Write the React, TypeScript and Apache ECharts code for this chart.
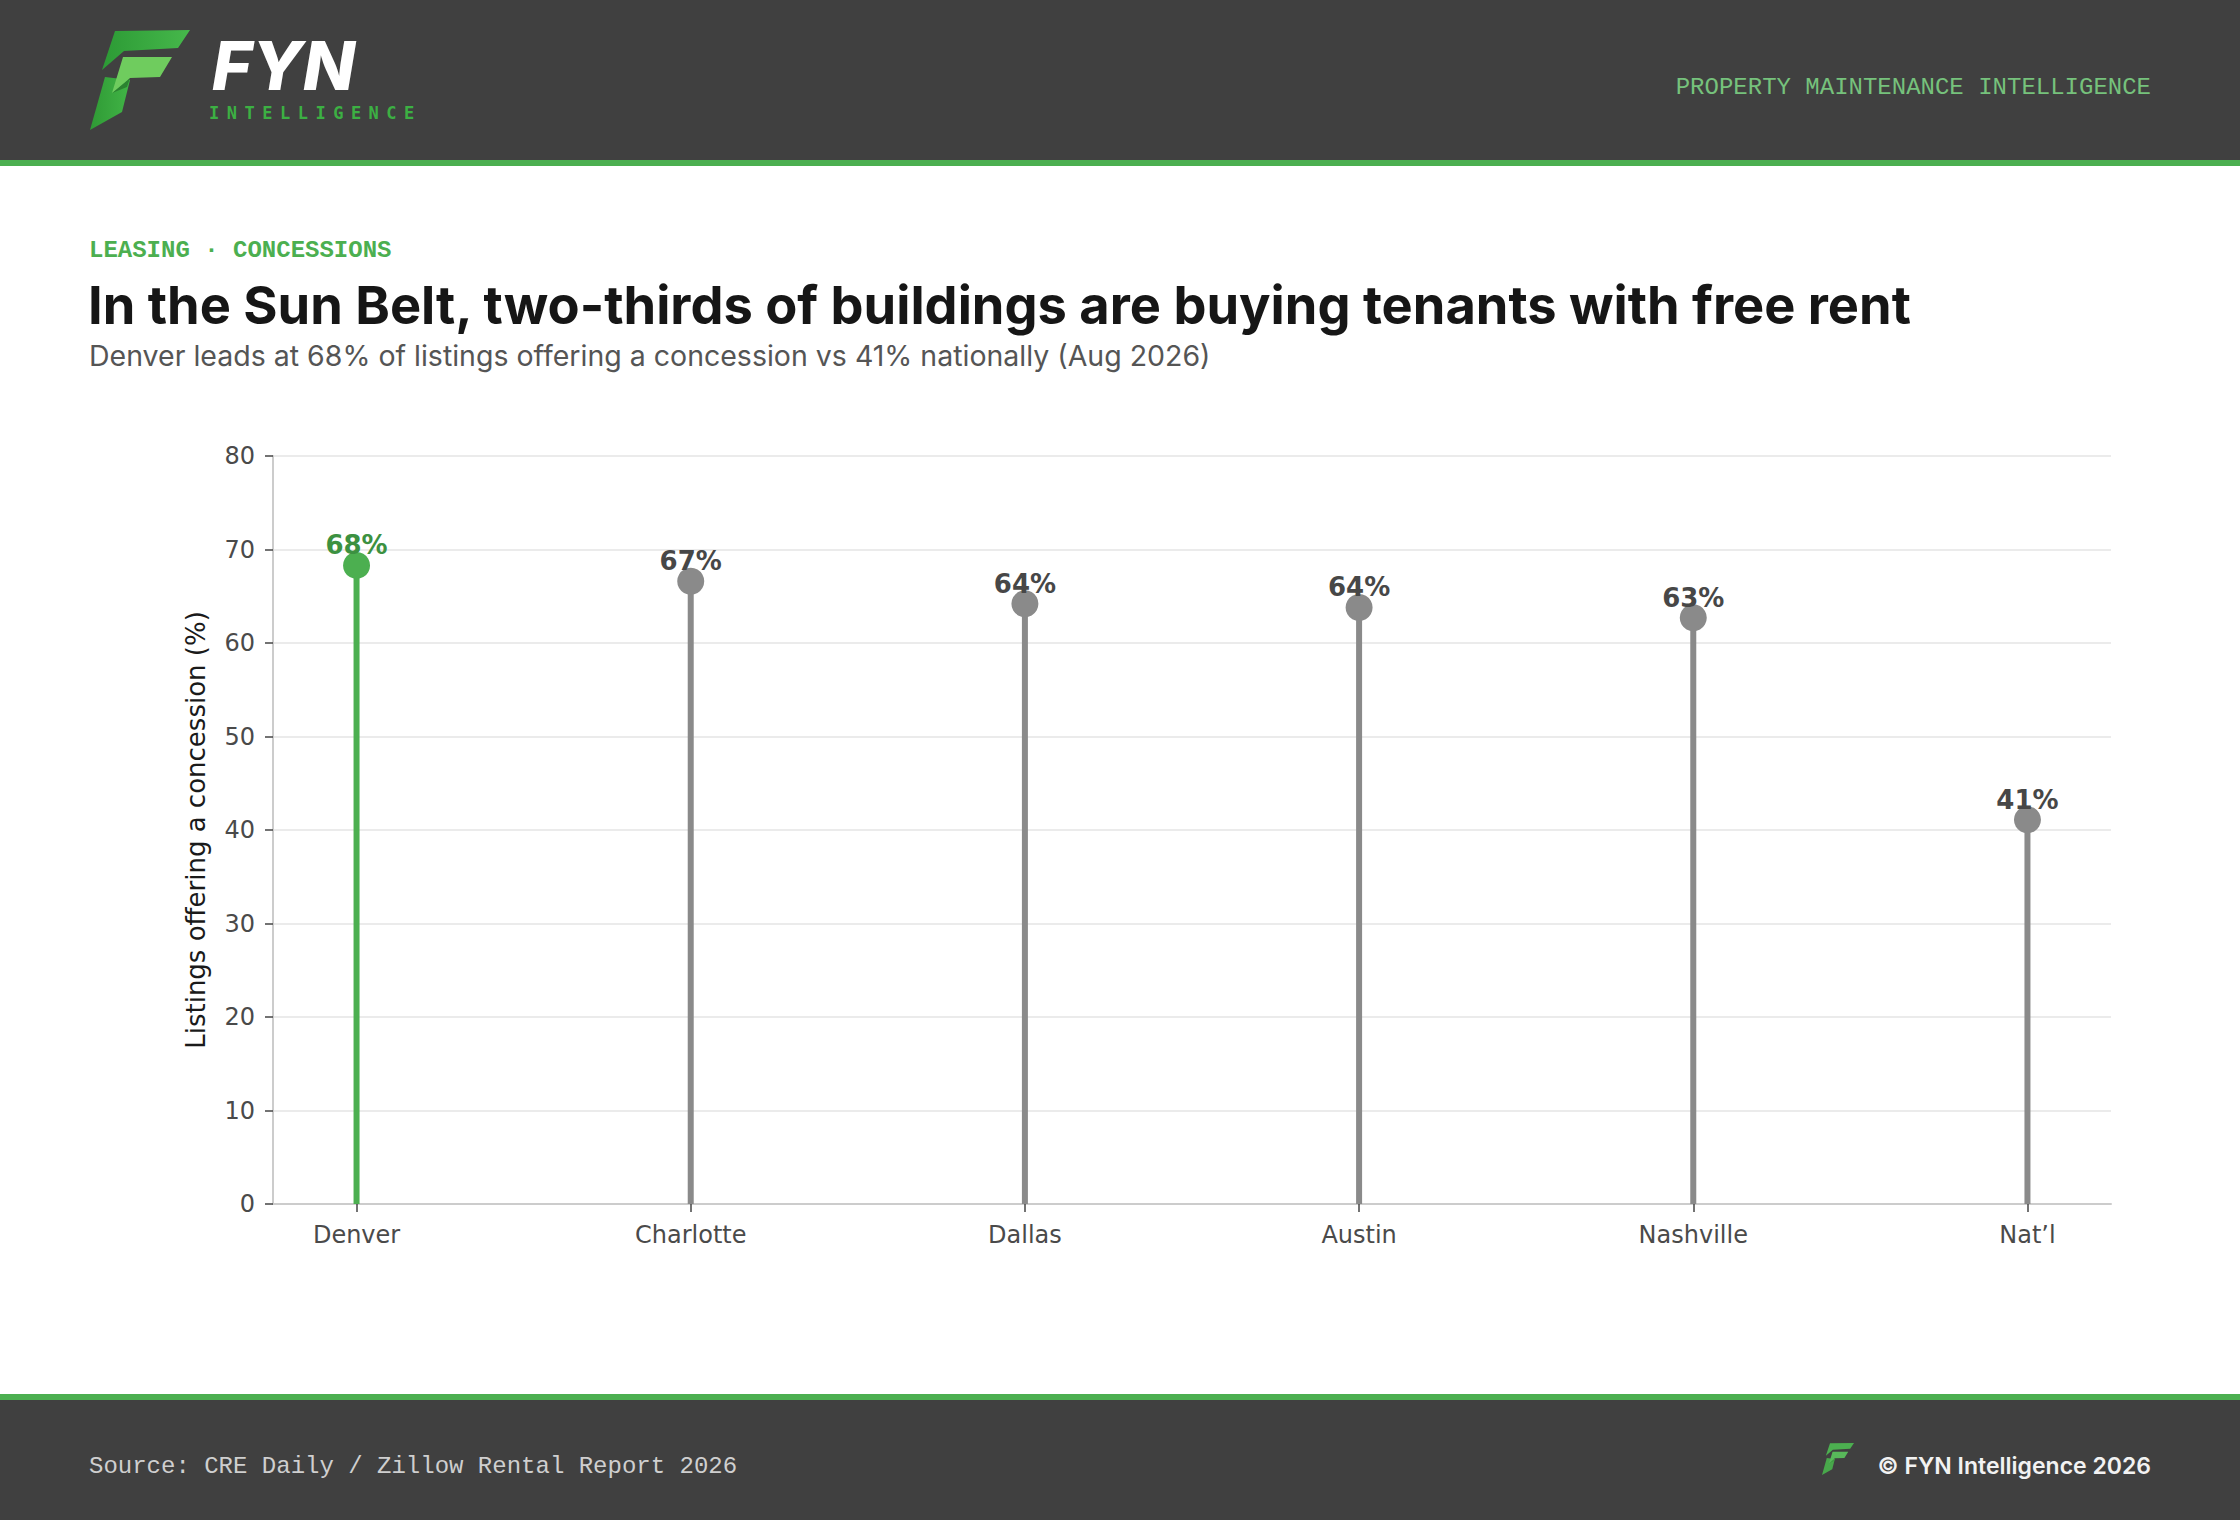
import React, { useEffect, useRef } from 'react';
import * as echarts from 'echarts';

// ---- data ----
const categories = ['Denver', 'Charlotte', 'Dallas', 'Austin', 'Nashville', 'Nat\u2019l'];
const concessionShare = [68.3, 66.6, 64.2, 63.8, 62.7, 41.1];
const highlightIndex = 0;
const yAxisMin = 0;
const yAxisMax = 80;
const yAxisInterval = 10;
const categoryPositions = categories.map((_, i) => i);

// ---- texts ----
const kicker = 'LEASING \u00b7 CONCESSIONS';
const titleText = 'In the Sun Belt, two-thirds of buildings are buying tenants with free rent';
const subtitleText = 'Denver leads at 68% of listings offering a concession vs 41% nationally (Aug 2026)';
const yAxisName = 'Listings offering a concession (%)';
const headerRight = 'PROPERTY MAINTENANCE INTELLIGENCE';
const sourceText = 'Source: CRE Daily / Zillow Rental Report 2026';
const copyrightText = '\u00a9 FYN Intelligence 2026';

const GREEN = '#4caf50';
const GREEN_LABEL = '#3c9141';
const GRAY = '#8a8a8a';
const GRAY_LABEL = '#474747';
const DARK = '#404040';

const topBar = [[25, 1], [100, 0], [88, 18], [34, 21], [12, 40]];
const midBar = [[33, 27], [82, 27], [70, 47], [40, 48], [22, 63]];
const stem = [[15, 47], [40, 50], [32, 82], [0, 100]];
const shade = [[22, 63], [40, 48], [37, 57]];

function logo(x: number, y: number, s: number, mono: boolean) {
  return {
    type: 'group',
    x,
    y,
    scaleX: s,
    scaleY: s,
    silent: true,
    children: [
      { type: 'polygon', shape: { points: stem }, style: { fill: mono ? '#48a84b' : new echarts.graphic.LinearGradient(0, 0, 1, 0, [{ offset: 0, color: '#2f9a35' }, { offset: 1, color: '#41b446' }]) } },
      { type: 'polygon', shape: { points: shade }, style: { fill: mono ? '#3f9a42' : '#2b8230' } },
      { type: 'polygon', shape: { points: topBar }, style: { fill: mono ? '#4caf50' : new echarts.graphic.LinearGradient(0, 0, 1, 0, [{ offset: 0, color: '#2c9a35' }, { offset: 1, color: '#46b84b' }]) } },
      { type: 'polygon', shape: { points: midBar }, style: { fill: mono ? '#58b85a' : '#6fcc5e' } },
    ],
  };
}

export default function App() {
  const ref = useRef<HTMLDivElement>(null);

  useEffect(() => {
    if (!ref.current) return;
    const chart = echarts.init(ref.current, undefined, { renderer: 'svg' });

    const pointData = concessionShare.map((v, i) => ({
      value: [categoryPositions[i], v],
      itemStyle: { color: i === highlightIndex ? GREEN : GRAY, opacity: 1 },
      label: { color: i === highlightIndex ? GREEN_LABEL : GRAY_LABEL },
    }));
    const stemData = concessionShare.map((v, i) => ({
      value: [categoryPositions[i], v],
      itemStyle: { color: i === highlightIndex ? GREEN : GRAY },
    }));

    chart.setOption({
      animation: false,
      backgroundColor: '#ffffff',
      grid: { left: 273, right: 129, top: 456, bottom: 316, containLabel: false },
      xAxis: {
        type: 'value',
        min: -0.25,
        max: 5.25,
        splitLine: { show: false },
        axisLine: { show: true, onZero: false, lineStyle: { color: '#cccccc', width: 2 } },
        axisTick: { show: true, customValues: categoryPositions, length: 8, lineStyle: { color: '#444444', width: 1.5 } },
        axisLabel: {
          customValues: categoryPositions,
          formatter: (v: number) => categories[Math.round(v)] ?? '',
          color: '#4a4a4a',
          fontSize: 24,
          fontFamily: 'DejaVu Sans',
          margin: 19,
        },
      },
      yAxis: {
        type: 'value',
        min: yAxisMin,
        max: yAxisMax,
        interval: yAxisInterval,
        name: yAxisName,
        nameLocation: 'middle',
        nameGap: 64,
        nameTextStyle: { color: '#1a1a1a', fontSize: 26, fontFamily: 'DejaVu Sans' },
        axisLine: { show: true, onZero: false, lineStyle: { color: '#cccccc', width: 2 } },
        axisTick: { show: true, length: 8, lineStyle: { color: '#444444', width: 1.5 } },
        axisLabel: { color: '#4a4a4a', fontSize: 24, fontFamily: 'DejaVu Sans', margin: 18 },
        splitLine: { show: true, lineStyle: { color: '#ebebeb', width: 2 } },
      },
      series: [
        {
          type: 'bar',
          data: stemData,
          barWidth: 6,
          silent: true,
          z: 2,
        },
        {
          type: 'scatter',
          data: pointData,
          symbol: 'circle',
          symbolSize: 27,
          itemStyle: { opacity: 1 },
          z: 3,
          label: {
            show: true,
            position: 'inside',
            offset: [0, -20],
            formatter: (p: any) => `${Math.round(p.value[1])}%`,
            fontSize: 26,
            fontWeight: 'bold',
            fontFamily: 'DejaVu Sans',
          },
        },
      ],
      graphic: [
        { type: 'rect', shape: { x: 0, y: 0, width: 2240, height: 160 }, style: { fill: DARK }, silent: true },
        { type: 'rect', shape: { x: 0, y: 160, width: 2240, height: 6 }, style: { fill: GREEN }, silent: true },
        { type: 'rect', shape: { x: 0, y: 1394, width: 2240, height: 6 }, style: { fill: GREEN }, silent: true },
        { type: 'rect', shape: { x: 0, y: 1400, width: 2240, height: 120 }, style: { fill: DARK }, silent: true },
        logo(90, 30, 1, false),
        logo(1822, 1443, 0.32, true),
        { type: 'text', x: 212, y: 65, style: { text: 'FYN', fontSize: 68, fontWeight: 800, fontStyle: 'italic', fontFamily: 'Inter', fill: '#ffffff', textAlign: 'left', textVerticalAlign: 'middle' } },
        { type: 'text', x: 209, y: 113, style: { text: 'INTELLIGENCE', fontSize: 17, fontWeight: 'bold', fontFamily: 'DejaVu Sans Mono', fill: '#3cb043', textAlign: 'left', textVerticalAlign: 'middle' } },
        { type: 'text', x: 2151, y: 87, style: { text: headerRight, fontSize: 24, fontFamily: 'Liberation Mono', fill: '#76c27c', textAlign: 'right', textVerticalAlign: 'middle' } },
        { type: 'text', x: 89, y: 250, style: { text: kicker, fontSize: 24, fontWeight: 'bold', fontFamily: 'Liberation Mono', fill: GREEN, textAlign: 'left', textVerticalAlign: 'middle' } },
        { type: 'text', x: 88, y: 305, style: { text: titleText, fontSize: 52.4, fontWeight: 700, fontFamily: 'Inter', fill: '#161616', textAlign: 'left', textVerticalAlign: 'middle' } },
        { type: 'text', x: 89, y: 355, style: { text: subtitleText, fontSize: 28.5, fontWeight: 400, fontFamily: 'Inter', fill: '#555555', textAlign: 'left', textVerticalAlign: 'middle' } },
        { type: 'text', x: 89, y: 1466, style: { text: sourceText, fontSize: 24, fontFamily: 'Liberation Mono', fill: '#cfcfcf', textAlign: 'left', textVerticalAlign: 'middle' } },
        { type: 'text', x: 2151, y: 1466, style: { text: copyrightText, fontSize: 23, fontWeight: 600, fontFamily: 'Inter', fill: '#f2f2f2', textAlign: 'right', textVerticalAlign: 'middle' } },
      ],
    });

    return () => chart.dispose();
  }, []);

  return (
    <>
      <style>{'text[style*="DejaVu Sans Mono"]{letter-spacing:7.5px;}'}</style>
      <div ref={ref} style={{ position: 'absolute', left: 0, top: 0, width: 2240, height: 1520 }} />
    </>
  );
}
